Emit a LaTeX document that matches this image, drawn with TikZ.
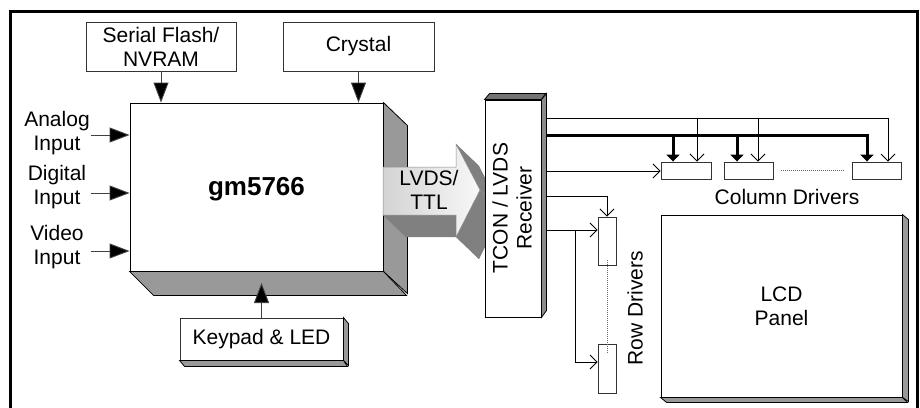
\documentclass[tikz,border=0pt]{standalone}
\usepackage{fontspec}
\setmainfont{Liberation Sans}
\usetikzlibrary{arrows.meta}
\begin{document}
\begin{tikzpicture}[x=1pt,y=-1pt,
  lbl/.style={font=\fontsize{21}{24}\selectfont, align=center, inner sep=0pt},
  box/.style={draw=black!80, line width=0.9pt, fill=white, inner sep=0pt, font=\fontsize{21}{24}\selectfont, align=center},
  bigarr/.style={draw=black!75, line width=0.9pt, -{Triangle[length=20pt,width=15pt,fill=black]}},
  thinarr/.style={line width=0.8pt, -{Straight Barb[length=7pt,width=14pt]}},
  thickarr/.style={line width=3pt, -{Triangle[length=7pt,width=13pt]}},
  sideface/.style={fill=black!40, draw=black, line width=0.8pt},
  dotline/.style={draw=black!60, line width=0.8pt, dash pattern=on 1pt off 1pt},
]
\useasboundingbox (0,0) rectangle (920,407);
% frame
\draw[line width=3pt] (10.5,420) -- (10.5,11.5) -- (917.5,11.5) -- (917.5,420);

% top boxes
\node[box, minimum width=150pt, minimum height=49pt] (sf) at (161,46.5) {Serial Flash/\\NVRAM};
\node[box, minimum width=151pt, minimum height=49pt] (xtal) at (358.5,46.5) {Crystal};

% main chip
\node[box, draw=black, minimum width=253pt, minimum height=168pt] (main) at (256.5,187) {};
\node[font=\bfseries\fontsize{26}{30}\selectfont, inner sep=0pt] (mainlbl) at (256.5,189) {gm5766};
\draw[sideface] (main.north east) -- ++(24,23) -- ++(0,168) -- (main.south east) -- cycle;
\draw[sideface] (main.south west) -- ++(24,24) -- ++(253,0) -- (main.south east) -- cycle;

\draw[bigarr] (sf.south) -- (sf.south |- main.north);
\draw[bigarr] (xtal.south) -- (xtal.south |- main.north);

% inputs
\node[lbl] (ain) at (57,133) {Analog\\Input};
\node[lbl] (din) at (57,187) {Digital\\Input};
\node[lbl] (vin) at (57,247) {Video\\Input};
\coordinate (ainp) at (91,135);
\coordinate (dinp) at (91,193);
\coordinate (vinp) at (91,251);
\draw[bigarr] (ainp) -- (ainp -| main.west);
\draw[bigarr] (dinp) -- (dinp -| main.west);
\draw[bigarr] (vinp) -- (vinp -| main.west);

% keypad
\node[box, minimum width=163pt, minimum height=42pt] (kp) at (261.5,339) {Keypad \& LED};
\draw[sideface] (kp.north east) -- ++(5,6) -- ++(0,42) -- (kp.south east) -- cycle;
\draw[sideface] (kp.south west) -- ++(5,6) -- ++(163,0) -- (kp.south east) -- cycle;
\coordinate (kpin) at (261.5,283);
\draw[bigarr] (kp.north) -- (kpin);

% LVDS arrow (3D)
\foreach \ax/\ay/\bx/\by in {383/167/456/167, 456/167/456/144, 456/144/480/190, 480/190/456/237, 456/237/456/215, 456/215/383/215, 383/215/383/167}{
  \fill[black!50] (\ax,\ay) -- (\bx,\by) -- (\bx+23,\by+22) -- (\ax+23,\ay+22) -- cycle;
}
\shade[left color=black!17, right color=black!3, draw=black!45, line width=0.5pt]
  (383,167) -- (456,167) -- (456,144) -- (480,190) -- (456,237) -- (456,215) -- (383,215) -- cycle;
\node[lbl] (lvds) at (429,190) {LVDS/\\TTL};

% TCON
\node[box, draw=black, minimum width=56pt, minimum height=217pt] (tcon) at (513,208.5) {};
\node[lbl, rotate=90] (tconlbl) at (512,208) {TCON / LVDS\\Receiver};
\draw[fill=black!55, draw=black, line width=0.8pt] (tcon.north west) -- ++(5,-6) -- ++(56,0) -- (tcon.north east) -- cycle;
\draw[fill=black!45, draw=black, line width=0.8pt] (tcon.north east) -- ++(5,-6) -- ++(0,217) -- (tcon.south east) -- cycle;

% column drivers
\node[box, minimum width=50pt, minimum height=17pt] (cd1) at (686,170.5) {};
\node[box, minimum width=49pt, minimum height=17pt] (cd2) at (748.5,170.5) {};
\node[box, minimum width=49pt, minimum height=17pt] (cd3) at (876.5,170.5) {};
\draw[dotline] ([xshift=8pt]cd2.east) -- ([xshift=-8pt]cd3.west);
\node[lbl] (cdl) at (787,197) {Column Drivers};

% row drivers
\node[box, minimum width=18pt, minimum height=48pt] (rd1) at (607,241) {};
\node[box, minimum width=18pt, minimum height=49pt] (rd2) at (607,368.5) {};
\draw[dotline] ([yshift=5pt]rd1.south) -- ([yshift=-9pt]rd2.north);
\node[lbl, rotate=90] (rdl) at (635,308) {Row Drivers};

% LCD panel
\node[box, draw=black, minimum width=241pt, minimum height=182pt] (lcd) at (781.5,306) {LCD\\Panel};
\draw[sideface] (lcd.north east) -- ++(6,5) -- ++(0,182) -- (lcd.south east) -- cycle;
\draw[sideface] (lcd.south west) -- ++(6,5) -- ++(241,0) -- (lcd.south east) -- cycle;

% connections from TCON
\coordinate (t1) at (546,118);
\coordinate (t2) at (546,135);
\coordinate (t3) at (546,171);
\coordinate (t4) at (546,196);
\coordinate (t5) at (546,230);
\draw[thinarr] (t1) -- (888,118) -- (cd3.north -| 888,0);
\draw[thinarr] (697,118) -- (cd1.north -| 697,0);
\draw[thinarr] (758,118) -- (cd2.north -| 758,0);
\draw[thickarr] (t2) -- (867,135) -- (cd3.north -| 867,0);
\draw[thickarr] (673,135) -- (cd1.north -| 673,0);
\draw[thickarr] (737,135) -- (cd2.north -| 737,0);
\draw[thinarr] (t3) -- (t3 -| cd1.west);
\draw[thinarr] (t4) -- (t4 -| rd1.north) -- (rd1.north);
\draw[thinarr] (t5) -- (t5 -| rd1.west);
\draw[thinarr] (575,230) -- (575,362) -- (rd2.west |- 0,362);
\end{tikzpicture}
\end{document}
